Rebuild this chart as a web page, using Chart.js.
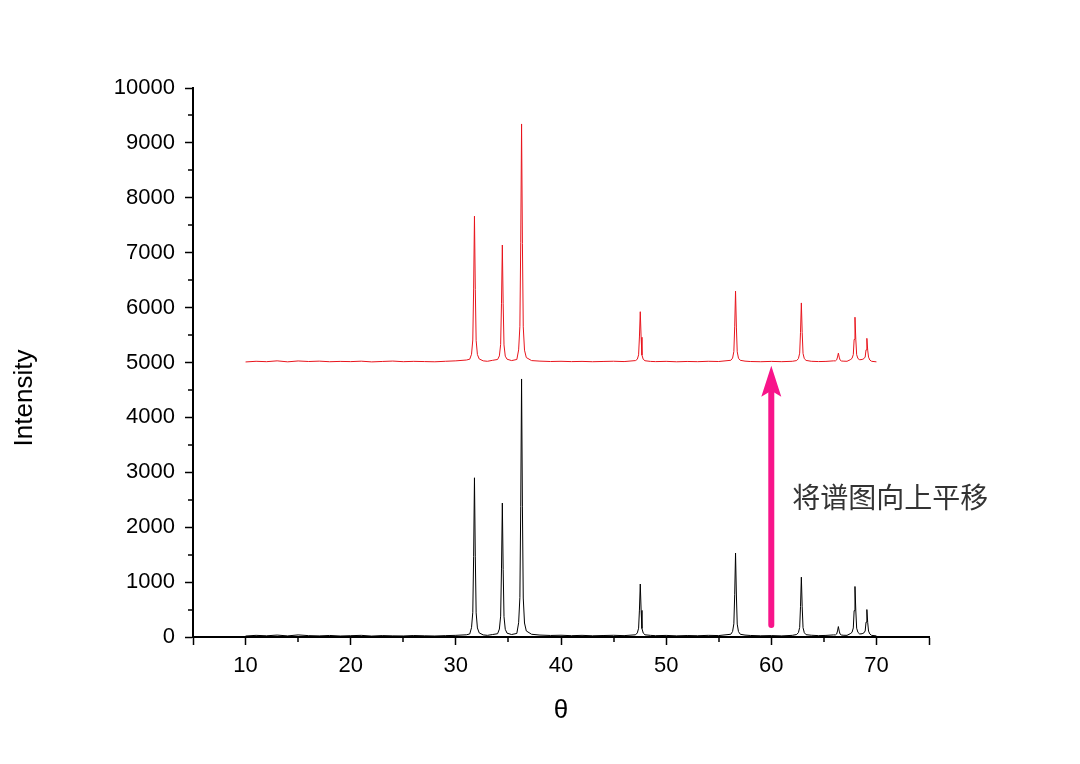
<!DOCTYPE html>
<html><head><meta charset="utf-8">
<script src="https://cdn.jsdelivr.net/npm/chart.js@4"></script>
<style>html,body{margin:0;padding:0;background:#fff}</style>
</head><body>
<canvas id="c" width="1080" height="764"></canvas>
<script>
// 2θ positions (shared by both patterns)
const theta = [
  10, 11, 12, 13, 14, 15, 16, 17, 18, 19, 20, 21, 22, 23, 24, 25, 26, 27, 28, 29, 30, 31, 31.32,
  31.49, 31.61, 31.69, 31.77, 31.85, 31.93, 32.05, 32.22,
  32.6, 33, 33.5, 33.97,
  34.14, 34.26, 34.34, 34.42, 34.50, 34.58, 34.70, 34.87,
  35.3, 35.8,
  35.97, 36.09, 36.17, 36.25, 36.33, 36.41, 36.53, 36.70,
  37.2, 38, 39, 40, 41, 42, 43, 44, 45, 46, 47.09,
  47.26, 47.38, 47.46, 47.54, 47.62, 47.70, 47.82, 47.99,
  48.5, 49, 50, 51, 52, 53, 54, 55, 56.15,
  56.32, 56.44, 56.52, 56.60, 56.68, 56.76, 56.88, 57.05,
  57.5, 58, 59, 60, 61, 62, 62.41,
  62.58, 62.70, 62.78, 62.86, 62.94, 63.02, 63.14, 63.31,
  63.8, 64.5, 65.2, 65.93,
  66.10, 66.22, 66.30, 66.38, 66.46, 66.54, 66.66, 66.83,
  67.2, 67.51,
  67.68, 67.80, 67.88, 67.96, 68.04, 68.12, 68.24, 68.41,
  68.64,
  68.81, 68.93, 69.01, 69.09, 69.17, 69.25, 69.37, 69.54,
  70
];
// original pattern (black)
const blackIntensity = [
  18, 30, 22, 35, 20, 38, 25, 20, 28, 18, 24, 30, 17, 26, 21, 19, 27, 22, 18, 25, 30, 40, 55,
  170, 450, 1470, 2900, 1460, 440, 165, 75,
  38, 30, 45, 60,
  145, 380, 1240, 2440, 1230, 370, 140, 70,
  45, 65,
  260, 720, 2380, 4700, 2370, 710, 255, 110,
  50, 35, 28, 32, 24, 30, 22, 27, 31, 25, 40,
  75, 160, 490, 965, 485, 155, 72, 40,
  30, 24, 29, 21, 27, 23, 30, 26, 50,
  100, 240, 770, 1530, 765, 235, 98, 50,
  35, 28, 22, 26, 20, 30, 45,
  80, 175, 555, 1090, 550, 170, 78, 42,
  32, 25, 29, 38,
  38, 55, 110, 190, 108, 54, 37, 32,
  30, 60,
  85, 165, 480, 920, 475, 160, 84, 55,
  60,
  75, 110, 270, 500, 266, 108, 55, 30,
  20
];
// shifted pattern (red)
const redIntensity = [
  5010, 5022, 5015, 5030, 5012, 5028, 5018, 5025, 5014, 5020, 5016, 5024, 5011, 5019, 5026, 5015, 5021, 5017, 5013, 5022, 5030, 5045, 5060,
  5150, 5410, 6340, 7665, 6330, 5400, 5145, 5065,
  5030, 5022, 5040, 5055,
  5120, 5330, 6080, 7140, 6070, 5320, 5115, 5060,
  5035, 5055,
  5230, 5660, 7180, 9345, 7170, 5650, 5225, 5090,
  5035, 5025, 5018, 5022, 5016, 5020, 5014, 5019, 5023, 5017, 5035,
  5060, 5140, 5465, 5925, 5460, 5135, 5058, 5032,
  5020, 5016, 5021, 5013, 5019, 5015, 5022, 5018, 5040,
  5080, 5200, 5650, 6300, 5645, 5195, 5078, 5040,
  5025, 5018, 5014, 5020, 5015, 5022, 5035,
  5072, 5170, 5550, 6085, 5545, 5165, 5070, 5038,
  5022, 5017, 5020, 5030,
  5030, 5048, 5100, 5170, 5098, 5046, 5028, 5025,
  5022, 5050,
  5075, 5145, 5420, 5825, 5415, 5142, 5072, 5050,
  5055,
  5070, 5100, 5230, 5440, 5226, 5098, 5045, 5022,
  5012
];
const xLabeledTicks = [10, 20, 30, 40, 50, 60, 70];
const yLabeledTicks = [0, 1000, 2000, 3000, 4000, 5000, 6000, 7000, 8000, 9000, 10000];
const xTitle = 'θ';
const yTitle = 'Intensity';
const noteText = '将谱图向上平移';
const noteTheta = 62.0, noteIntensity = 2550;
const arrowTheta = 60, arrowFromIntensity = 220, arrowToIntensity = 4940;

const isMajorX = v => v % 10 === 0 || v === 5 || v === 75;
const isMajorY = v => v % 1000 === 0;

const minorTicks = {
  id: 'minorTicks',
  afterDraw(chart) {
    const ctx = chart.ctx, xs = chart.scales.x, ys = chart.scales.y;
    ctx.save();
    ctx.strokeStyle = '#000';
    ctx.lineWidth = 1.5;
    xs.ticks.forEach(t => {
      if (!isMajorX(t.value)) {
        const px = Math.round(xs.getPixelForValue(t.value));
        ctx.beginPath(); ctx.moveTo(px, xs.top); ctx.lineTo(px, xs.top + 5); ctx.stroke();
      }
    });
    ys.ticks.forEach(t => {
      if (!isMajorY(t.value)) {
        const py = Math.round(ys.getPixelForValue(t.value));
        ctx.beginPath(); ctx.moveTo(ys.right, py); ctx.lineTo(ys.right - 5, py); ctx.stroke();
      }
    });
    // y axis title (placed slightly below the axis centre, as in the original)
    ctx.fillStyle = '#000';
    ctx.font = '26px "Liberation Sans", Arial';
    ctx.textAlign = 'center';
    ctx.textBaseline = 'middle';
    ctx.translate(25, 398);
    ctx.rotate(-Math.PI / 2);
    ctx.fillText(yTitle, 0, 0);
    ctx.restore();
  }
};

const annotations = {
  id: 'annotations',
  afterDatasetsDraw(chart) {
    const ctx = chart.ctx, xs = chart.scales.x, ys = chart.scales.y;
    const px = xs.getPixelForValue(arrowTheta);
    const yTip = ys.getPixelForValue(arrowToIntensity);
    const yTail = ys.getPixelForValue(arrowFromIntensity);
    ctx.save();
    ctx.strokeStyle = '#F8148A';
    ctx.fillStyle = '#F8148A';
    ctx.lineWidth = 6;
    ctx.lineCap = 'round';
    ctx.beginPath(); ctx.moveTo(px, yTail); ctx.lineTo(px, yTip + 24); ctx.stroke();
    ctx.beginPath();
    ctx.moveTo(px, yTip);
    ctx.lineTo(px + 10, yTip + 31);
    ctx.lineTo(px, yTip + 25);
    ctx.lineTo(px - 10, yTip + 31);
    ctx.closePath(); ctx.fill();
    ctx.fillStyle = '#333';
    ctx.font = '28px "Noto Sans CJK SC"';
    ctx.textAlign = 'left';
    ctx.textBaseline = 'middle';
    ctx.fillText(noteText, xs.getPixelForValue(noteTheta), ys.getPixelForValue(noteIntensity));
    ctx.restore();
  }
};

const pts = arr => theta.map((t, i) => ({x: t, y: arr[i]}));

new Chart(document.getElementById('c'), {
  type: 'line',
  data: {
    datasets: [
      {label: 'shifted', data: pts(redIntensity), borderColor: '#E8141C', borderWidth: 1, pointRadius: 0, tension: 0, fill: false},
      {label: 'original', data: pts(blackIntensity), borderColor: '#000', borderWidth: 1, pointRadius: 0, tension: 0, fill: false}
    ]
  },
  options: {
    responsive: false,
    animation: false,
    devicePixelRatio: 1,
    layout: {padding: {left: 0, top: 88, right: 151, bottom: 0}},
    plugins: {legend: {display: false}, tooltip: {enabled: false}},
    scales: {
      x: {
        type: 'linear', min: 5, max: 75,
        afterFit: s => { s.height = 764 - 637; },
        afterBuildTicks: s => { const v = []; for (let k = 5; k <= 75; k += 5) v.push({value: k}); s.ticks = v; },
        ticks: {
          autoSkip: false, maxRotation: 0, padding: 8, color: '#000',
          font: {family: '"Liberation Sans", Arial', size: 22},
          callback: v => xLabeledTicks.includes(v) ? String(v) : ''
        },
        grid: {drawOnChartArea: false, drawTicks: true, tickLength: 8, tickWidth: 1.5,
               tickColor: c => (c.tick && isMajorX(c.tick.value)) ? '#000' : 'rgba(0,0,0,0)'},
        border: {display: true, color: '#000', width: 2},
        title: {display: true, text: xTitle, color: '#000', font: {family: '"Liberation Sans", Arial', size: 26}, padding: {top: 0, bottom: 38}}
      },
      y: {
        type: 'linear', min: 0, max: 10000,
        afterFit: s => { s.width = 193; },
        afterBuildTicks: s => { const v = []; for (let k = 0; k <= 10000; k += 500) v.push({value: k}); s.ticks = v; },
        ticks: {
          autoSkip: false, padding: 10, color: '#000',
          font: {family: '"Liberation Sans", Arial', size: 22},
          callback: v => yLabeledTicks.includes(v) ? String(v) : ''
        },
        grid: {drawOnChartArea: false, drawTicks: true, tickLength: 8, tickWidth: 1.5,
               tickColor: c => (c.tick && isMajorY(c.tick.value)) ? '#000' : 'rgba(0,0,0,0)'},
        border: {display: true, color: '#000', width: 2},
        title: {display: false}
      }
    }
  },
  plugins: [minorTicks, annotations]
});
</script>
</body></html>
